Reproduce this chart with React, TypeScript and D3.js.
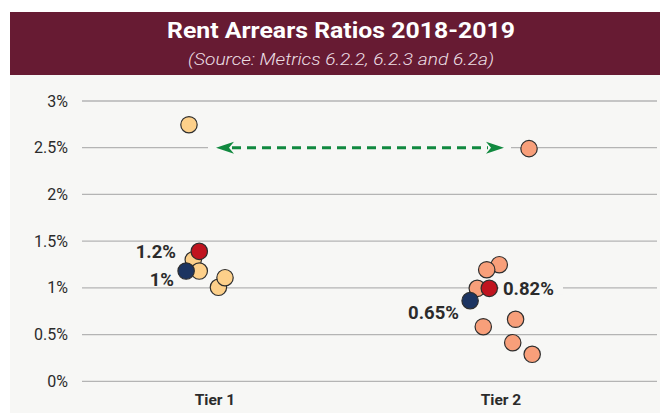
import React from "react";
import * as d3 from "d3";

const W = 660;
const H = 413;

const tiers = ["Tier 1", "Tier 2"];
const yTicks = [0, 0.5, 1, 1.5, 2, 2.5, 3];
const yTickLabels = ["0%", "0.5%", "1%", "1.5%", "2%", "2.5%", "3%"];

// Tier 1 providers (value %, horizontal jitter as share of tier spacing)
const tier1Values = [1.3, 1.18, 1.006, 1.109, 2.746];
const tier1Jitter = [-0.076, -0.055, 0.012, 0.035, -0.091];
// Tier 2 providers
const tier2Values = [0.995, 1.248, 1.194, 0.664, 0.584, 0.413, 0.289, 2.49];
const tier2Jitter = [-0.083, -0.006, -0.05, 0.051, -0.062, 0.041, 0.109, 0.098];

// Medians (red) and weighted averages (navy)
const medianValues = [1.391, 0.995];
const medianJitter = [-0.055, -0.041];
const medianLabels = ["1.2%", "0.82%"];
const avgValues = [1.18, 0.863];
const avgJitter = [-0.101, -0.108];
const avgLabels = ["1%", "0.65%"];

const arrowValue = 2.5;

const title = "Rent Arrears Ratios 2018-2019";
const subtitle = "(Source: Metrics 6.2.2, 6.2.3 and 6.2a)";

const C = {
  header: "#671b33",
  bg: "#f7f7f5",
  grid: "#b4b4b4",
  text: "#2b2b2b",
  t1: "#fdd08a",
  t2: "#f89f7a",
  red: "#c0141f",
  navy: "#1c3461",
  green: "#11893f",
  stroke: "#2e2e2e",
};

export default function App() {
  const y = d3.scaleLinear().domain([0, 3]).range([381.3, 101]);
  const x = d3.scaleLinear().domain([0, 1]).range([215, 501]);
  const step = x(1) - x(0);
  const gx0 = 82;
  const gx1 = 657;
  const r = 8.2;
  const font = "Roboto, 'Noto Sans', sans-serif";

  const cx = (tier: number, j: number) => x(tier) + j * step;

  const dot = (key: string, px: number, v: number, fill: string) => (
    <circle key={key} cx={px} cy={y(v)} r={r} fill={fill} stroke={C.stroke} strokeWidth={1.2} />
  );

  const yA = y(arrowValue);
  const aL = 216;
  const aR = 504;
  const head = 18;

  return (
    <svg
      width={W}
      height={H}
      style={{ position: "absolute", left: 0, top: 0 }}
      fontFamily={font}
    >
      <rect x={0} y={0} width={W} height={H} fill="#ffffff" />
      <rect x={10} y={75} width={W - 10} height={H - 75} fill={C.bg} />
      <rect x={10} y={12} width={W - 10} height={63} fill={C.header} />
      <text
        x={341}
        y={37.5}
        textAnchor="middle"
        fill="#ffffff"
        fontSize={21.5}
        fontWeight={700}
        textLength={348}
        lengthAdjust="spacingAndGlyphs"
      >
        {title}
      </text>
      <text
        x={341}
        y={65}
        textAnchor="middle"
        fill="#ecdfe3"
        fontSize={16.5}
        fontStyle="italic"
        fontWeight={300}
        textLength={306}
        lengthAdjust="spacingAndGlyphs"
      >
        {subtitle}
      </text>

      {yTicks.map((t, i) => (
        <g key={t}>
          <line x1={gx0} x2={gx1} y1={y(t)} y2={y(t)} stroke={C.grid} strokeWidth={1.3} />
          <text x={68} y={y(t) + 5.5} textAnchor="end" fontSize={16} fill={C.text}>
            {yTickLabels[i]}
          </text>
        </g>
      ))}

      {tiers.map((t, i) => (
        <text key={t} x={x(i)} y={405} textAnchor="middle" fontSize={15.5} fontWeight={700} fill={C.text}>
          {t}
        </text>
      ))}

      {/* arrow linking the two outliers */}
      <rect x={208} y={yA - 4} width={303} height={8} fill={C.bg} />
      <line
        x1={aL + head - 2}
        x2={aR - head + 2}
        y1={yA}
        y2={yA}
        stroke={C.green}
        strokeWidth={3}
        strokeDasharray="9 6"
      />
      <path d={`M${aL},${yA} L${aL + head},${yA - 6} L${aL + head - 5},${yA} L${aL + head},${yA + 6} Z`} fill={C.green} />
      <path d={`M${aR},${yA} L${aR - head},${yA - 6} L${aR - head + 5},${yA} L${aR - head},${yA + 6} Z`} fill={C.green} />

      {/* label background for 0.82% */}
      <rect x={499} y={y(medianValues[1]) - 6} width={64} height={12} fill={C.bg} />

      {tier1Values.map((v, i) => dot(`t1-${i}`, cx(0, tier1Jitter[i]), v, C.t1))}
      {tier2Values.map((v, i) => dot(`t2-${i}`, cx(1, tier2Jitter[i]), v, C.t2))}
      {medianValues.map((v, i) => dot(`m-${i}`, cx(i, medianJitter[i]), v, C.red))}
      {avgValues.map((v, i) => dot(`a-${i}`, cx(i, avgJitter[i]), v, C.navy))}

      <text x={176} y={y(medianValues[0]) + 7} textAnchor="end" fontSize={18.5} fontWeight={700} fill={C.text}>
        {medianLabels[0]}
      </text>
      <text x={174} y={y(avgValues[0]) + 15} textAnchor="end" fontSize={18.5} fontWeight={700} fill={C.text}>
        {avgLabels[0]}
      </text>
      <text x={503} y={y(medianValues[1]) + 6.5} textAnchor="start" fontSize={18.5} fontWeight={700} fill={C.text}>
        {medianLabels[1]}
      </text>
      <text x={459} y={y(avgValues[1]) + 18.5} textAnchor="end" fontSize={18.5} fontWeight={700} fill={C.text}>
        {avgLabels[1]}
      </text>
    </svg>
  );
}
